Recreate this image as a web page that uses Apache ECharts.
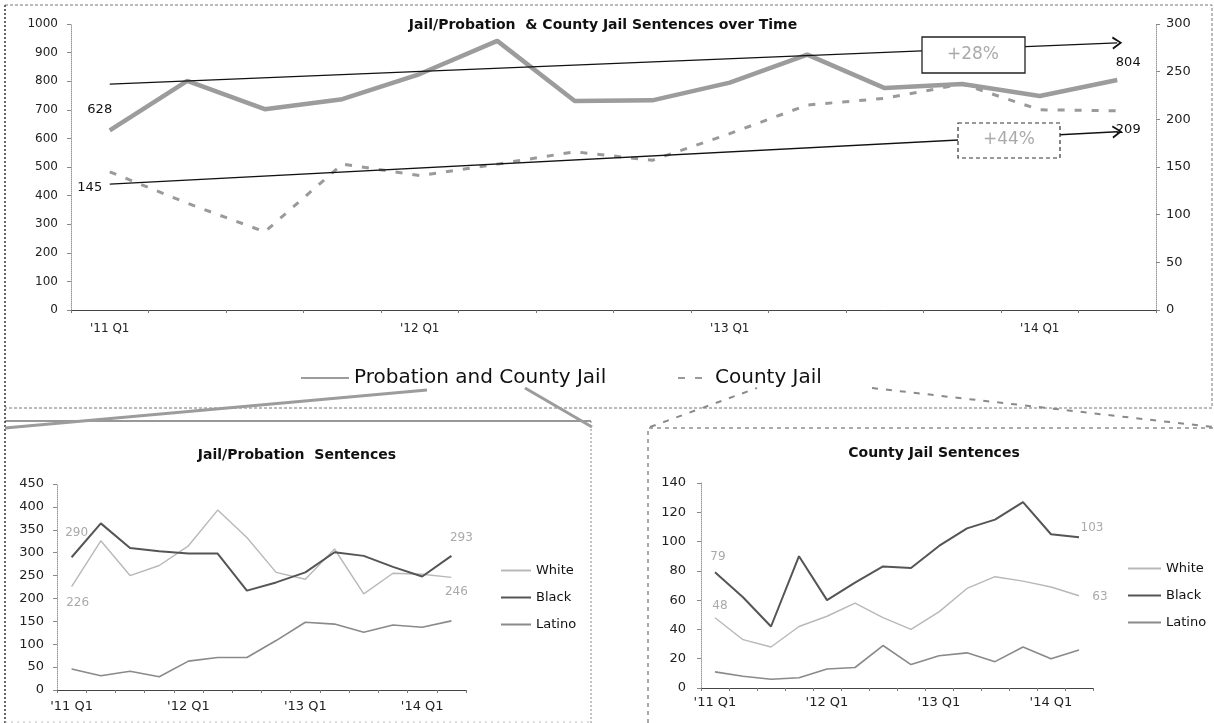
<!DOCTYPE html>
<html>
<head>
<meta charset="utf-8">
<script src="https://cdn.jsdelivr.net/npm/echarts@6/dist/echarts.min.js"></script>
<style>
  html, body { margin: 0; padding: 0; background: #fff; }
  #main { width: 1214px; height: 723px; }
</style>
</head>
<body>
<div id="main"></div>
<script>
// Quarterly sentence counts, '11 Q1 through '14 Q2
const quarters = ["'11 Q1", "'11 Q2", "'11 Q3", "'11 Q4", "'12 Q1", "'12 Q2", "'12 Q3",
                  "'12 Q4", "'13 Q1", "'13 Q2", "'13 Q3", "'13 Q4", "'14 Q1", "'14 Q2"];
const labelEvery = 4;

// Overview (left axis: probation + county jail, right axis: county jail)
const probationCounty = [628, 801, 702, 737, 825, 941, 731, 733, 795, 893, 776, 790, 748, 804];
const countyJail      = [145, 112, 82, 153, 141, 153, 166, 157, 185, 215, 222, 237, 210, 209];

// Trend arrows (start, end) and their change annotations
const probationTrend = [790, 934];
const countyTrend    = [132, 187];
const changeLabels   = ['+28%', '+44%'];

// Jail/Probation sentences by race
const jpWhite  = [226, 326, 250, 272, 315, 393, 333, 257, 242, 308, 210, 255, 253, 246];
const jpBlack  = [290, 364, 310, 303, 298, 298, 217, 235, 257, 301, 293, 269, 248, 293];
const jpLatino = [46, 31, 41, 29, 63, 71, 71, 108, 148, 144, 126, 142, 137, 151];

// County jail sentences by race
const cjWhite  = [48, 33, 28, 42, 49, 58, 48, 40, 52, 68, 76, 73, 69, 63];
const cjBlack  = [79, 62, 42, 90, 60, 72, 83, 82, 97, 109, 115, 127, 105, 103];
const cjLatino = [11, 8, 6, 7, 13, 14, 29, 16, 22, 24, 18, 28, 20, 26];

const raceNames = ['White', 'Black', 'Latino'];
const FONT = 'DejaVu Sans';

const chart = echarts.init(document.getElementById('main'), null, { renderer: 'canvas' });

function catAxis(gridIndex, fontSize, margin) {
  return {
    type: 'category', gridIndex, data: quarters, boundaryGap: true,
    axisLine: { lineStyle: { color: '#444', width: 1 } },
    axisTick: { show: true, interval: 0, length: 3, lineStyle: { color: '#777' } },
    axisLabel: { interval: labelEvery - 1, color: '#222', fontSize, margin, fontFamily: FONT },
    splitLine: { show: false }
  };
}

function valAxis(gridIndex, max, interval, position, fontSize, margin) {
  return {
    type: 'value', gridIndex, min: 0, max, interval, position,
    axisLine: { show: true, lineStyle: { color: '#999', type: 'dotted', width: 1 } },
    axisTick: { show: true, length: 4, lineStyle: { color: '#888' } },
    axisLabel: { color: '#222', fontSize, margin, fontFamily: FONT, formatter: v => String(v) },
    splitLine: { show: false }
  };
}

// Start and end value labels, anchored to the first and last data points
function endPoints(values, firstOffset, lastOffset, color, size) {
  const last = values.length - 1;
  return {
    symbol: 'circle', symbolSize: 0, silent: true,
    label: { show: true, position: 'inside', color, fontSize: size, fontFamily: FONT },
    data: [
      { coord: [0, values[0]], value: values[0], label: { offset: firstOffset } },
      { coord: [last, values[last]], value: values[last], label: { offset: lastOffset } }
    ]
  };
}

const arrowHead = 'path://M5,0 L10,10 L8.6,10.8 L5,3.2 L1.4,10.8 L0,10 Z';

function trendLine(trend) {
  return {
    silent: true, symbol: ['none', arrowHead], symbolSize: [13, 10],
    lineStyle: { color: '#111', width: 1.3, type: 'solid' },
    label: { show: false },
    data: [[{ coord: [0, trend[0]] }, { coord: [quarters.length - 1, trend[1]] }]]
  };
}

const raceStyles = {
  White:  { color: '#b8b8b8', width: 1.4 },
  Black:  { color: '#555555', width: 2 },
  Latino: { color: '#8a8a8a', width: 1.6 }
};

// gridIdx 1 = jail/probation panel, 2 = county jail panel (x and y axis share the index)
function raceSeries(name, values, gridIdx, endLabel) {
  const s = {
    name, type: 'line', xAxisIndex: gridIdx, yAxisIndex: gridIdx, data: values,
    symbol: 'none', smooth: false,
    lineStyle: { color: raceStyles[name].color, width: raceStyles[name].width },
    itemStyle: { color: raceStyles[name].color }
  };
  if (endLabel) s.markPoint = endLabel;
  return s;
}

// legend entries show only the line sample, no marker
const hiddenMarker = { opacity: 0 };

const option = {
  animation: false,
  backgroundColor: '#fff',
  textStyle: { fontFamily: FONT },
  grid: [
    { left: 71, top: 24, width: 1085, height: 286 },
    { left: 57, top: 484, width: 409, height: 206 },
    { left: 701, top: 483, width: 392, height: 205 }
  ],
  xAxis: [
    catAxis(0, 12, 13),
    catAxis(1, 13, 10),
    catAxis(2, 13, 8)
  ],
  yAxis: [
    valAxis(0, 1000, 100, 'left', 12, 13),
    valAxis(1, 450, 50, 'left', 13, 13),
    valAxis(2, 140, 20, 'left', 13, 15),
    valAxis(0, 300, 50, 'right', 13, 10)
  ],
  legend: [
    {
      data: ['Probation and County Jail'], left: 295, top: 363,
      itemWidth: 48, itemHeight: 14, itemStyle: hiddenMarker,
      textStyle: { fontSize: 20, color: '#111', fontFamily: FONT }
    },
    {
      data: ['County Jail'], left: 672, top: 363,
      itemWidth: 32, itemHeight: 14, itemStyle: hiddenMarker,
      textStyle: { fontSize: 20, color: '#111', fontFamily: FONT }
    },
    {
      data: raceNames, orient: 'vertical', left: 495, top: 559,
      itemWidth: 30, itemHeight: 14, itemGap: 14, itemStyle: hiddenMarker,
      textStyle: { fontSize: 13, color: '#111', fontFamily: FONT }
    },
    {
      data: raceNames, orient: 'vertical', left: 1122, top: 557,
      itemWidth: 33, itemHeight: 14, itemGap: 14, itemStyle: hiddenMarker,
      textStyle: { fontSize: 13, color: '#111', fontFamily: FONT }
    }
  ],
  series: [
    {
      name: 'Probation and County Jail', type: 'line', xAxisIndex: 0, yAxisIndex: 0,
      data: probationCounty, symbol: 'none',
      lineStyle: { color: '#9c9c9c', width: 4.5 },
      itemStyle: { color: '#9c9c9c' },
      markPoint: endPoints(probationCounty, [-10, -21], [11, -17], '#111', 13),
      markLine: trendLine(probationTrend), z: 3
    },
    {
      name: 'County Jail', type: 'line', xAxisIndex: 0, yAxisIndex: 3,
      data: countyJail, symbol: 'none',
      lineStyle: { color: '#9a9a9a', width: 3, type: [7, 10] },
      itemStyle: { color: '#9a9a9a' },
      markPoint: endPoints(countyJail, [-20, 16], [11, 19], '#111', 13),
      markLine: trendLine(countyTrend), z: 2
    },
    raceSeries('White', jpWhite, 1, endPoints(jpWhite, [6, 16], [5, 14], '#aaa', 12)),
    raceSeries('Black', jpBlack, 1, endPoints(jpBlack, [5, -24], [10, -18], '#aaa', 12)),
    raceSeries('Latino', jpLatino, 1, null),
    raceSeries('White', cjWhite, 2, endPoints(cjWhite, [5, -12], [21, 1], '#aaa', 12)),
    raceSeries('Black', cjBlack, 2, endPoints(cjBlack, [3, -15], [13, -9], '#aaa', 12)),
    raceSeries('Latino', cjLatino, 2, null)
  ],
  graphic: [
    // frame around the overview chart
    { type: 'polyline', z: 50, silent: true,
      shape: { points: [[5, 5], [1212, 5], [1212, 408], [5, 408]] },
      style: { stroke: '#777', lineWidth: 1, lineDash: [3, 2], fill: null } },
    { type: 'line', z: 50, silent: true, shape: { x1: 5, y1: 5, x2: 5, y2: 723 },
      style: { stroke: '#666', lineWidth: 2, lineDash: [2, 2] } },
    // frame of the jail/probation panel
    { type: 'line', z: 50, silent: true, shape: { x1: 5, y1: 421, x2: 591, y2: 421 },
      style: { stroke: '#333', lineWidth: 1.2 } },
    { type: 'line', z: 50, silent: true, shape: { x1: 591, y1: 421, x2: 591, y2: 723 },
      style: { stroke: '#888', lineWidth: 1, lineDash: [2, 2] } },
    { type: 'line', z: 50, silent: true, shape: { x1: 5, y1: 722, x2: 591, y2: 722 },
      style: { stroke: '#bbb', lineWidth: 1, lineDash: [2, 4] } },
    // frame of the county jail panel
    { type: 'polyline', z: 50, silent: true,
      shape: { points: [[648, 723], [648, 428], [1214, 428]] },
      style: { stroke: '#555', lineWidth: 1, lineDash: [4, 4], fill: null } },
    // connectors from the overview legend down to each panel
    { type: 'line', z: 50, silent: true, shape: { x1: 5, y1: 428, x2: 427, y2: 390 },
      style: { stroke: '#9c9c9c', lineWidth: 3 } },
    { type: 'line', z: 50, silent: true, shape: { x1: 525, y1: 388, x2: 592, y2: 427 },
      style: { stroke: '#9c9c9c', lineWidth: 3 } },
    { type: 'line', z: 50, silent: true, shape: { x1: 650, y1: 427, x2: 757, y2: 388 },
      style: { stroke: '#8a8a8a', lineWidth: 2, lineDash: [6, 8] } },
    { type: 'line', z: 50, silent: true, shape: { x1: 872, y1: 388, x2: 1213, y2: 427 },
      style: { stroke: '#8a8a8a', lineWidth: 2, lineDash: [6, 8] } },
    // change annotations on the trend arrows
    { type: 'rect', z: 100, silent: true, shape: { x: 922, y: 37, width: 103, height: 36 },
      style: { fill: '#fff', stroke: '#222', lineWidth: 1.3 } },
    { type: 'text', z: 101, silent: true, x: 973, y: 55,
      style: { text: changeLabels[0], fill: '#aaa', font: '17px "DejaVu Sans"', align: 'center', verticalAlign: 'middle' } },
    { type: 'rect', z: 100, silent: true, shape: { x: 958, y: 123, width: 102, height: 35 },
      style: { fill: '#fff', stroke: '#333', lineWidth: 1.2, lineDash: [4, 3] } },
    { type: 'text', z: 101, silent: true, x: 1009, y: 140,
      style: { text: changeLabels[1], fill: '#aaa', font: '17px "DejaVu Sans"', align: 'center', verticalAlign: 'middle' } },
    // chart titles
    { type: 'text', z: 60, silent: true, x: 603, y: 25,
      style: { text: 'Jail/Probation  & County Jail Sentences over Time', fill: '#111',
               font: 'bold 14px "DejaVu Sans"', align: 'center', verticalAlign: 'middle' } },
    { type: 'text', z: 60, silent: true, x: 297, y: 455,
      style: { text: 'Jail/Probation  Sentences', fill: '#111',
               font: 'bold 14px "DejaVu Sans"', align: 'center', verticalAlign: 'middle' } },
    { type: 'text', z: 60, silent: true, x: 934, y: 453,
      style: { text: 'County Jail Sentences', fill: '#111',
               font: 'bold 14px "DejaVu Sans"', align: 'center', verticalAlign: 'middle' } }
  ]
};

chart.setOption(option);
</script>
</body>
</html>
